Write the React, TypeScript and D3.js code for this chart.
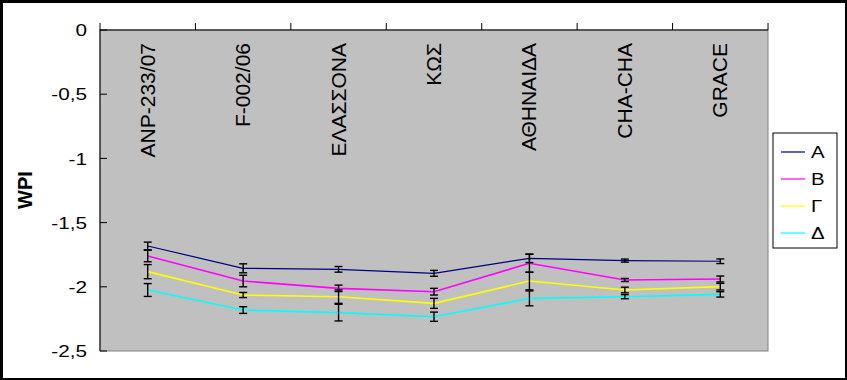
import React, { useEffect } from "react";
import * as d3 from "d3";

const categories = ["ANP-233/07", "F-002/06", "ΕΛΑΣΣΟΝΑ", "ΚΩΣ", "ΑΘΗΝΑΙΔΑ", "CHA-CHA", "GRACE"];
const seriesNames = ["Α", "Β", "Γ", "Δ"];
const seriesColors = ["#000080", "#ff00ff", "#ffff00", "#00ffff"];
const valuesA = [-1.682, -1.856, -1.864, -1.895, -1.778, -1.796, -1.801];
const valuesB = [-1.76, -1.955, -2.012, -2.038, -1.817, -1.947, -1.939];
const valuesG = [-1.882, -2.064, -2.077, -2.129, -1.955, -2.025, -1.999];
const valuesD = [-2.025, -2.181, -2.201, -2.233, -2.09, -2.077, -2.059];
const errorsA = [0.03, 0.035, 0.022, 0.023, 0.033, 0.012, 0.018];
const errorsB = [0.045, 0.045, 0.025, 0.026, 0.07, 0.012, 0.023];
const errorsG = [0.055, 0.02, 0.052, 0.039, 0.069, 0.022, 0.026];
const errorsD = [0.05, 0.026, 0.065, 0.036, 0.058, 0.016, 0.021];
const yTicks = [0, -0.5, -1, -1.5, -2, -2.5];
const yTickLabels = ["0", "-0,5", "-1", "-1,5", "-2", "-2,5"];
const yTitle = "WPI";

const W = 847;
const H = 380;
const plot = { left: 100, top: 30, right: 768, bottom: 351 };
const FONT = "'Liberation Sans', Arial, sans-serif";

export default function App() {
  useEffect(() => {
    document.body.style.margin = "0";
  }, []);

  const x = d3.scaleBand<string>().domain(categories).range([plot.left, plot.right]);
  const y = d3.scaleLinear().domain([-2.5, 0]).range([plot.bottom, plot.top]);
  const cx = (c: string) => (x(c) as number) + x.bandwidth() / 2;

  const allValues = [valuesA, valuesB, valuesG, valuesD];
  const allErrors = [errorsA, errorsB, errorsG, errorsD];

  const line = d3
    .line<number>()
    .x((_, i) => cx(categories[i]))
    .y((v) => y(v));

  const legendY = [152, 179, 206, 233];

  return (
    <svg width={W} height={H} style={{ display: "block" }} fontFamily={FONT}>
      <rect x={0} y={0} width={W} height={H} fill="#000" />
      <rect x={3} y={3} width={W - 5} height={H - 5} fill="#fff" />
      {/* plot area */}
      <rect
        x={plot.left}
        y={plot.top}
        width={plot.right - plot.left}
        height={plot.bottom - plot.top}
        fill="#c0c0c0"
        stroke="#808080"
        strokeWidth={1}
      />
      {/* axes */}
      <line x1={plot.left} x2={plot.right} y1={plot.top} y2={plot.top} stroke="#000" strokeWidth={1} />
      <line x1={plot.left} x2={plot.left} y1={plot.top} y2={plot.bottom} stroke="#000" strokeWidth={1} />
      {/* top category ticks */}
      {categories.map((c, i) => (
        <line key={"ct" + i} x1={x(c) as number} x2={x(c) as number} y1={plot.top - 7} y2={plot.top} stroke="#000" />
      ))}
      <line x1={plot.right} x2={plot.right} y1={plot.top - 7} y2={plot.top} stroke="#000" />
      {/* y ticks */}
      {yTicks.map((t, i) => (
        <g key={"yt" + i}>
          <line x1={plot.left} x2={plot.left + 7} y1={y(t)} y2={y(t)} stroke="#000" />
          <g transform={`translate(87,${y(t)}) scale(1.22,1)`}>
            <text x={0} y={0} dy="0.36em" textAnchor="end" fontSize={17} fill="#000">
              {yTickLabels[i]}
            </text>
          </g>
        </g>
      ))}
      {/* y title */}
      <text
        transform={`translate(32,190) rotate(-90)`}
        textAnchor="middle"
        fontSize={20}
        fontWeight="bold"
        fill="#000"
      >
        {yTitle}
      </text>
      {/* category labels */}
      {categories.map((c, i) => (
        <text
          key={"cl" + i}
          transform={`translate(${cx(c) + 7},43) rotate(-90)`}
          textAnchor="end"
          fontSize={21}
          fill="#000"
        >
          {c}
        </text>
      ))}
      {/* lines */}
      {allValues.map((vals, s) => (
        <path
          key={"ln" + s}
          d={line(vals) as string}
          fill="none"
          stroke={seriesColors[s]}
          strokeWidth={s === 0 ? 1.2 : 1.6}
        />
      ))}
      {/* error bars */}
      {allValues.map((vals, s) =>
        vals.map((v, i) => {
          const xc = cx(categories[i]);
          const e = allErrors[s][i];
          const y1 = y(v + e);
          const y2 = y(v - e);
          return (
            <g key={`eb${s}-${i}`} stroke="#000" strokeWidth={1.4}>
              <line x1={xc} x2={xc} y1={y1} y2={y2} />
              <line x1={xc - 4} x2={xc + 4} y1={y1} y2={y1} />
              <line x1={xc - 4} x2={xc + 4} y1={y2} y2={y2} />
            </g>
          );
        })
      )}
      {/* legend */}
      <rect x={773} y={133} width={64} height={115} fill="#fff" stroke="#000" strokeWidth={1} />
      {seriesNames.map((n, s) => (
        <g key={"lg" + s}>
          <line x1={781} x2={805} y1={legendY[s]} y2={legendY[s]} stroke={seriesColors[s]} strokeWidth={1.2} />
          <g transform={`translate(811,${legendY[s]}) scale(1.2,1)`}>
            <text x={0} y={0} dy="0.36em" fontSize={17} fill="#000">
              {n}
            </text>
          </g>
        </g>
      ))}
    </svg>
  );
}
